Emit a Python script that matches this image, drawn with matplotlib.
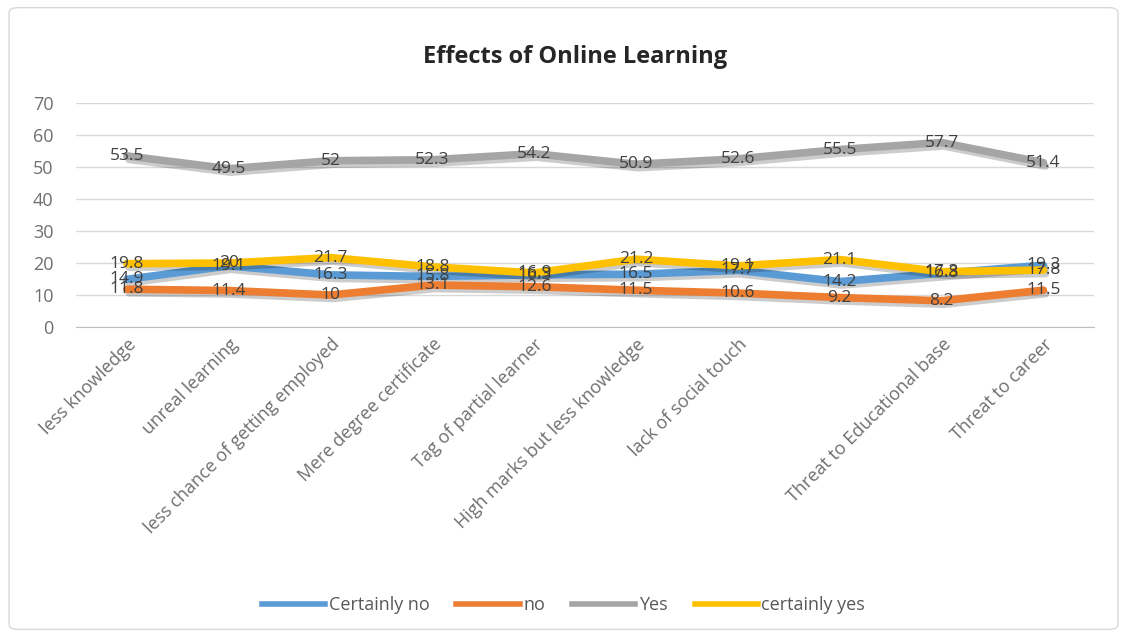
import numpy as np
import matplotlib
matplotlib.use('Agg')
import matplotlib.pyplot as plt
import matplotlib.patheffects as pe
from matplotlib.patches import FancyBboxPatch
from matplotlib.lines import Line2D

categories = ['less knowledge', 'unreal learning', 'less chance of getting employed',
              'Mere degree certificate', 'Tag of partial learner',
              'High marks but less knowledge', 'lack of social touch', '',
              'Threat to Educational base', 'Threat to career']

certainly_no = [14.9, 19.1, 16.3, 15.8, 16.3, 16.5, 17.7, 14.2, 16.8, 19.3]
no = [11.8, 11.4, 10, 13.1, 12.6, 11.5, 10.6, 9.2, 8.2, 11.5]
yes = [53.5, 49.5, 52, 52.3, 54.2, 50.9, 52.6, 55.5, 57.7, 51.4]
certainly_yes = [19.8, 20, 21.7, 18.8, 16.9, 21.2, 19.1, 21.1, 17.3, 17.8]

series_names = ['Certainly no', 'no', 'Yes', 'certainly yes']
series_values = [certainly_no, no, yes, certainly_yes]
colors = ['#5B9BD5', '#ED7D31', '#A5A5A5', '#FFC000']

plt.rcParams['font.family'] = ['Open Sans', 'DejaVu Sans']

fig = plt.figure(figsize=(11.27, 6.37), dpi=100)

# chart border, behind everything
border = FancyBboxPatch((0.008, 0.012), 0.984, 0.976, boxstyle='round,pad=0,rounding_size=0.008',
                        transform=fig.transFigure, facecolor='none', edgecolor='#D9D9D9',
                        linewidth=1, zorder=-10)
fig.patches.append(border)

ax = fig.add_axes([0.0674, 0.4867, 0.9036, 0.3513])
ax.patch.set_alpha(0)
x = np.arange(len(categories))

shadow = [pe.SimpleLineShadow(offset=(1.5, -2.5), shadow_color='black', alpha=0.2), pe.Normal()]
for name, vals, c in zip(series_names, series_values, colors):
    ax.plot(x, vals, color=c, linewidth=5.5, solid_capstyle='round',
            solid_joinstyle='round', path_effects=shadow)

for vals in series_values:
    for xi, v in zip(x, vals):
        ax.text(xi, v, f'{v:g}', ha='center', va='center', fontsize=12.5, color='#404040')

ax.set_xlim(-0.5, len(categories) - 0.5)
ax.set_ylim(0, 70)
ax.set_yticks(range(0, 71, 10))
ax.grid(axis='y', color='#D9D9D9', linewidth=1)
ax.set_axisbelow(True)
for s in ['top', 'right', 'left']:
    ax.spines[s].set_visible(False)
ax.spines['bottom'].set_color('#BFBFBF')
ax.tick_params(axis='both', length=0, colors='#6F6F6F', labelsize=13)
ax.tick_params(axis='y', pad=16)
ax.tick_params(axis='x', pad=6)
ax.set_xticks(x)
ax.set_xticklabels(categories, rotation=45, ha='right', rotation_mode='anchor')

fig.text(0.51, 0.91, 'Effects of Online Learning', ha='center', va='center',
         fontsize=17, fontweight='bold', color='#262626')

handles = [Line2D([], [], color=c, linewidth=4) for c in colors]
leg = fig.legend(handles, series_names, loc='center', bbox_to_anchor=(0.5, 0.05), ncol=4,
                 frameon=False, fontsize=13, handlelength=3.5, handletextpad=0.2,
                 columnspacing=1.5)
for t in leg.get_texts():
    t.set_color('#595959')

plt.savefig('out.png', dpi=100)
plt.close()
